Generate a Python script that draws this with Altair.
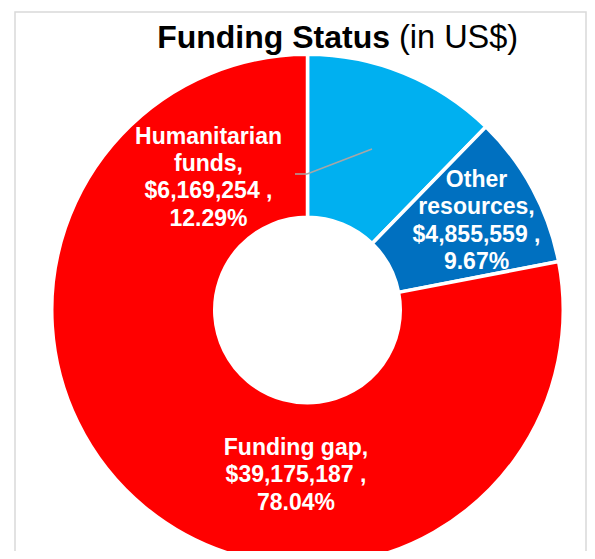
import altair as alt
import pandas as pd

# ---- data ----
categories = ["Humanitarian funds", "Other resources", "Funding gap"]
label_names = ["Humanitarian\nfunds,", "Other\nresources,", "Funding gap,"]
values = [6169254, 4855559, 39175187]
colors = ["#00b0f0", "#0070c0", "#ff0000"]

total = sum(values)
labels = [f"{n}\n${v:,} ,\n{v / total * 100:.2f}%" for n, v in zip(label_names, values)]
df = pd.DataFrame({
    "category": categories,
    "value": values,
    "order": list(range(len(categories))),
    "label": labels,
})

FONT = "Liberation Sans"
CX, CY = 292.5, 298          # centre of the donut inside the plot area
R_OUT, R_IN = 255.75, 92.75
W, H = 572, 539

base = alt.Chart(df).encode(
    theta=alt.Theta("value:Q", stack=True),
    order=alt.Order("order:Q"),
    x=alt.value(CX),
    y=alt.value(CY),
)

arcs = base.mark_arc(radius=R_OUT, radius2=R_IN, stroke="white", strokeWidth=3.5).encode(
    color=alt.Color("category:N", scale=alt.Scale(domain=categories, range=colors), legend=None)
)


def label_layer(cat, dx, dy):
    return base.mark_text(
        radius=174, dx=dx, dy=dy, font=FONT, fontSize=23, fontWeight="bold",
        color="white", lineBreak="\n", lineHeight=27.3, align="center", baseline="alphabetic",
    ).encode(text=alt.condition(alt.datum.category == cat, "label:N", alt.value("")))


lab_h = label_layer("Humanitarian funds", -164.5, -5)
lab_o = label_layer("Other resources", 15.9, -40.4)
lab_g = label_layer("Funding gap", 99.2, 10.8)

one = pd.DataFrame({"a": [0]})

border = alt.Chart(one).mark_rect(fill="transparent", stroke="#d9d9d9", strokeWidth=1.5).encode(
    x=alt.value(0), x2=alt.value(W - 1), y=alt.value(0), y2=alt.value(600)
)

leader1 = alt.Chart(one).mark_rule(color="#a6a6a6", strokeWidth=1.5).encode(
    x=alt.value(280), x2=alt.value(292), y=alt.value(162), y2=alt.value(162)
)
leader2 = alt.Chart(one).mark_rule(color="#a6a6a6", strokeWidth=1.5).encode(
    x=alt.value(292), x2=alt.value(357), y=alt.value(162), y2=alt.value(137)
)

title_bold = alt.Chart(one).mark_text(
    text="Funding Status", font=FONT, fontSize=32, fontWeight="bold",
    align="right", baseline="alphabetic", color="black",
).encode(x=alt.value(375), y=alt.value(35.5))

title_reg = alt.Chart(one).mark_text(
    text="(in US$)", font=FONT, fontSize=32.5, fontWeight="normal",
    align="left", baseline="alphabetic", color="black",
).encode(x=alt.value(384), y=alt.value(35.5))

chart = alt.layer(
    border, arcs, leader1, leader2, lab_h, lab_o, lab_g, title_bold, title_reg
).properties(
    width=W,
    height=H,
    padding={"left": 7, "top": 4, "right": 0, "bottom": 0},
    autosize="none",
).configure_view(strokeWidth=0)

chart.save("out.html", embed_options={"renderer": "svg", "actions": False})
